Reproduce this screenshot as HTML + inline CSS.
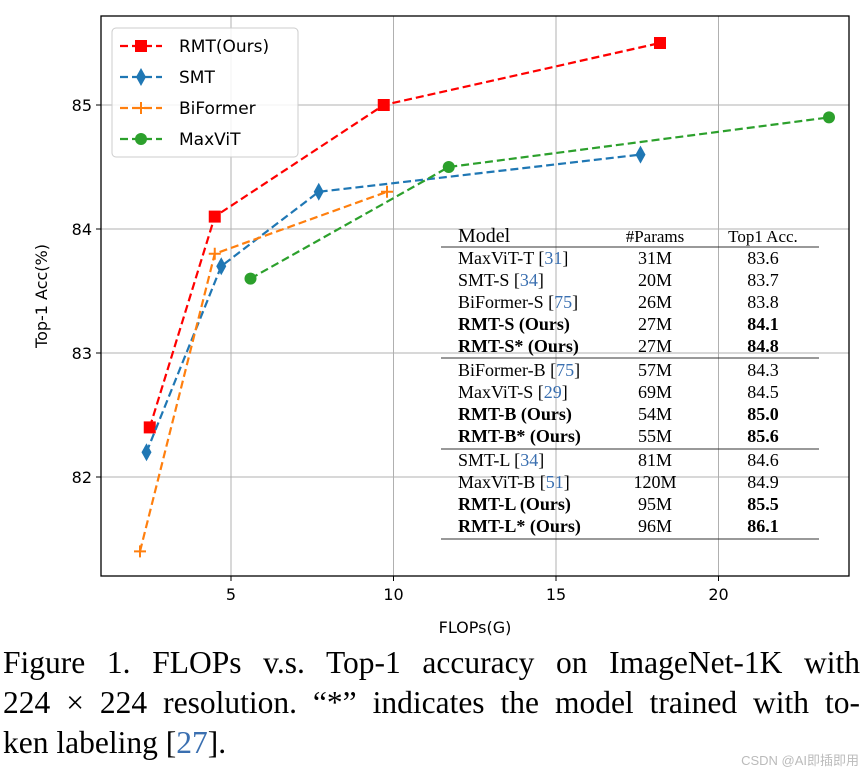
<!DOCTYPE html>
<html><head><meta charset="utf-8"><style>
body{margin:0;background:#fff;width:867px;height:774px;overflow:hidden}
svg{position:absolute;left:0;top:0}
.cap{position:absolute;left:3px;width:857px;font:31.5px "Liberation Serif",serif;line-height:40px;top:643px;color:#000}
.cap div{white-space:nowrap}
.cap .j{text-align:justify;text-align-last:justify;white-space:normal}
.cap a{color:#3a6fb0;text-decoration:none}
</style></head><body>
<svg width="867" height="774" id="chart"></svg>
<div class="cap">
<div class="j">Figure 1. FLOPs v.s. Top-1 accuracy on ImageNet-1K with</div>
<div class="j">224 × 224 resolution. “*” indicates the model trained with to-</div>
<div>ken labeling [<a>27</a>].</div>
</div>
<div style="position:absolute;right:8px;top:750px;font:13px 'Liberation Sans','Noto Sans CJK SC',sans-serif;color:#bbb">CSDN @AI即插即用</div>
<script>
const xTicks=[5,10,15,20];
const yTicks=[82,83,84,85];
const seriesNames=["RMT(Ours)","SMT","BiFormer","MaxViT"];
const rmtX=[2.5,4.5,9.7,18.2], rmtY=[82.4,84.1,85.0,85.5];
const smtX=[2.4,4.7,7.7,17.6], smtY=[82.2,83.7,84.3,84.6];
const biX=[2.2,4.5,9.8], biY=[81.4,83.8,84.3];
const maxX=[5.6,11.7,23.4], maxY=[83.6,84.5,84.9];
const tableRows=[
["MaxViT-T [31]","31M","83.6",0],["SMT-S [34]","20M","83.7",0],["BiFormer-S [75]","26M","83.8",0],["RMT-S (Ours)","27M","84.1",1],["RMT-S* (Ours)","27M","84.8",1],
["BiFormer-B [75]","57M","84.3",0],["MaxViT-S [29]","69M","84.5",0],["RMT-B (Ours)","54M","85.0",1],["RMT-B* (Ours)","55M","85.6",1],
["SMT-L [34]","81M","84.6",0],["MaxViT-B [51]","120M","84.9",0],["RMT-L (Ours)","95M","85.5",1],["RMT-L* (Ours)","96M","86.1",1]];
const NS="http://www.w3.org/2000/svg",svg=document.getElementById('chart');
const L=101,R=849,T=16,B=576;
const X=v=>68.5+v*32.5, Y=v=>105+(85-v)*124;
function el(t,a,p){const e=document.createElementNS(NS,t);for(const k in a)e.setAttribute(k,a[k]);(p||svg).appendChild(e);return e}
xTicks.forEach(t=>{const g=el('line',{x1:X(t),x2:X(t),y1:T,y2:B,stroke:'#b0b0b0','stroke-width':1});
el('line',{x1:X(t),x2:X(t),y1:B,y2:B+5,stroke:'#000'});
const tx=el('text',{x:X(t),y:B+24,'text-anchor':'middle','font-family':'DejaVu Sans,sans-serif','font-size':16});tx.textContent=t;});
yTicks.forEach(t=>{const g=el('line',{x1:L,x2:R,y1:Y(t),y2:Y(t),stroke:'#b0b0b0','stroke-width':1});
el('line',{x1:L-5,x2:L,y1:Y(t),y2:Y(t),stroke:'#000'});
const tx=el('text',{x:L-9,y:Y(t)+6,'text-anchor':'end','font-family':'DejaVu Sans,sans-serif','font-size':16});tx.textContent=t;});
const fr=el('rect',{x:L,y:T,width:R-L,height:B-T,fill:'none',stroke:'#000','stroke-width':1.3});

let t=el('text',{x:475,y:633,'text-anchor':'middle','font-family':'DejaVu Sans,sans-serif','font-size':16});t.textContent='FLOPs(G)';

t=el('text',{x:0,y:0,transform:'translate(47,296) rotate(-90)','text-anchor':'middle','font-family':'DejaVu Sans,sans-serif','font-size':16});t.textContent='Top-1 Acc(%)';

function marker(kind,x,y,c,p){
 if(kind==0)return el('rect',{x:x-6,y:y-6,width:12,height:12,fill:c},p);
 if(kind==1)return el('path',{d:`M${x} ${y-9}L${x+5} ${y}L${x} ${y+9}L${x-5} ${y}Z`,fill:c},p);
 if(kind==2)return el('path',{d:`M${x-6} ${y}H${x+6}M${x} ${y-6}V${y+6}`,stroke:c,'stroke-width':2},p);
 return el('circle',{cx:x,cy:y,r:6,fill:c},p);}
const cols=['#ff0000','#1f77b4','#ff7f0e','#2ca02c'];
[[rmtX,rmtY],[smtX,smtY],[biX,biY],[maxX,maxY]].forEach((s,i)=>{
 const g=el('g',{});
 el('polyline',{points:s[0].map((v,j)=>X(v)+','+Y(s[1][j])).join(' '),fill:'none',stroke:cols[i],'stroke-width':2.2,'stroke-dasharray':'8,4'},g);
 s[0].forEach((v,j)=>{const m=marker(i,X(v),Y(s[1][j]),cols[i],g);});
});
const lg=el('g',{});
el('rect',{x:112,y:28,width:186,height:129,rx:4,fill:'#fff','fill-opacity':0.85,stroke:'#ccc'},lg);
seriesNames.forEach((n,i)=>{const y=46+i*31;const e=el('g',{},lg);
 el('line',{x1:120,x2:162,y1:y,y2:y,stroke:cols[i],'stroke-width':2.2,'stroke-dasharray':'8,4'},e);
 marker(i,141,y,cols[i],e);
 const tt=el('text',{x:179,y:y+6,'font-family':'DejaVu Sans,sans-serif','font-size':17},e);tt.textContent=n;});
const tb=el('g',{'font-family':'Liberation Serif,serif','font-size':18});
[[458,'start','Model',20],[655,'middle','#Params',17],[763,'middle','Top1 Acc.',17]].forEach(h=>{const e=el('text',{x:h[0],y:242,'text-anchor':h[1],'font-size':h[3]},tb);e.textContent=h[2];});
[247,358,449,539].forEach(y=>el('line',{x1:441,x2:819,y1:y,y2:y,stroke:'#333','stroke-width':1},tb));
const rowY=[258,280,302,324,346,370,392,414,436,460,482,504,526];
tableRows.forEach((r,i)=>{const y=rowY[i]+6;const w=r[3]?'bold':'normal';
 const a=el('text',{x:458,y:y,'font-weight':w},tb);
 const m=r[0].match(/^(.*)\[(\d+)\]$/);
 if(m){a.textContent=m[1]+'[';const s=el('tspan',{fill:'#3a6fb0'},a);s.textContent=m[2];const s2=el('tspan',{},a);s2.textContent=']';}else a.textContent=r[0];
 el('text',{x:655,y:y,'text-anchor':'middle','font-weight':'normal'},tb).textContent=r[1];
 el('text',{x:763,y:y,'text-anchor':'middle','font-weight':w},tb).textContent=r[2];});
</script>
</body></html>
